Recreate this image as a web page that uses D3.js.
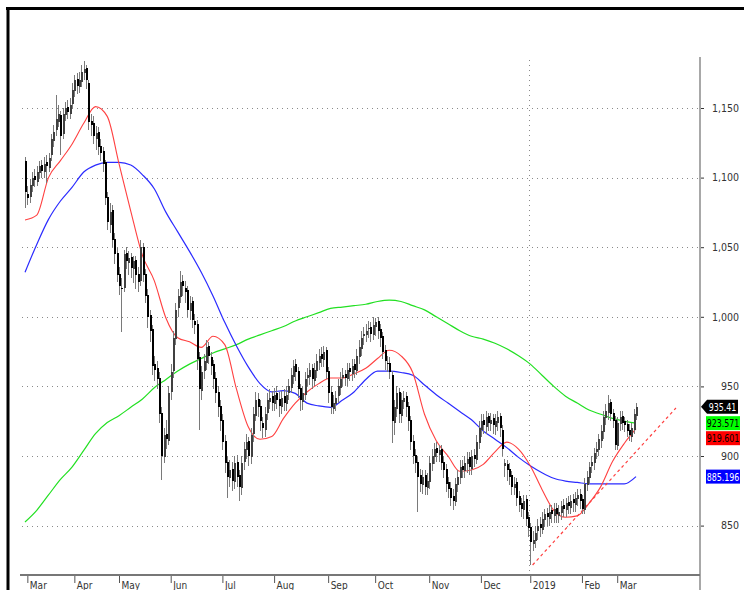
<!DOCTYPE html>
<html>
<head>
<meta charset="utf-8">
<script src="https://cdnjs.cloudflare.com/ajax/libs/d3/7.8.5/d3.min.js"></script>
<style>
  body { margin: 0; background: #fff; }
  svg { display: block; }
  text { font-family: 'Liberation Sans Narrow', 'DejaVu Sans Condensed', sans-serif; }
</style>
</head>
<body>
<div id="chart-area"></div>
<script>
// Daily candles, Mar 2018 - Mar 2019 (one entry per trading day)
const opens = [1112,1088,1086,1094,1101,1097,1103,1109,1104,1111,1107,1116,1126,1134,1140,1145,1131,1145,1151,1146,
  1153,1162,1171,1165,1169,1175,1179,1168,1141,1139,1128,1133,1123,1119,1111,1086,1066,1077,1056,1046,
  1031,1021,1021,1046,1039,1043,1034,1041,1031,1026,1050,1031,1016,1001,991,966,963,956,931,899,
  916,911,946,961,984,1006,1014,1026,1021,1019,1004,1011,997,995,971,947,961,967,979,971,
  966,956,946,936,926,911,896,884,891,881,896,886,877,896,904,911,899,916,929,941,
  936,924,919,931,939,943,937,945,941,935,943,937,945,949,957,966,961,949,939,944,
  956,957,963,954,961,967,973,969,976,961,946,934,937,943,949,956,959,955,963,959,
  966,961,971,977,986,987,991,993,987,993,997,991,986,976,967,967,958,924,934,946,
  929,939,943,936,926,911,901,896,886,879,886,877,881,894,899,906,901,905,896,891,
  881,877,871,867,879,884,893,889,894,899,891,901,897,909,919,926,921,929,923,927,
  921,924,929,919,893,894,891,886,877,881,871,866,861,869,856,849,837,839,846,851,
  847,854,859,855,861,857,863,857,859,865,861,867,863,869,865,869,873,869,861,879,
  884,893,895,903,904,911,917,927,931,939,931,926,907,923,929,925,923,919,914,919,929];
const highs = [1115,1094,1099,1104,1106,1108,1112,1113,1115,1116,1118,1131,1138,1159,1152,1148,1150,1154,1156,1157,
  1168,1174,1175,1176,1181,1184,1181,1170,1146,1144,1137,1136,1128,1122,1113,1090,1082,1080,1060,1050,
  1036,1028,1048,1050,1047,1046,1044,1044,1036,1055,1053,1034,1020,1005,994,972,968,960,935,920,
  926,950,966,990,1010,1020,1033,1030,1026,1022,1015,1014,1002,998,975,965,973,983,982,975,
  969,960,950,940,930,915,900,897,896,900,901,890,900,910,916,914,920,935,946,945,
  940,928,935,945,948,947,949,950,946,947,948,950,955,963,969,970,964,952,950,960,
  963,967,966,967,973,977,978,979,978,964,950,944,947,955,960,963,962,967,967,970,
  970,977,983,990,993,995,997,996,1000,999,1000,995,989,980,972,971,961,940,950,949,
  945,947,946,939,929,915,905,900,891,890,890,888,900,905,909,910,908,908,900,894,
  885,881,876,884,890,897,897,900,903,903,904,905,915,925,930,930,932,931,931,930,
  930,932,931,922,898,897,895,889,885,884,875,870,872,872,860,852,846,850,855,856,
  860,862,863,865,865,866,866,865,868,869,870,871,872,873,874,876,876,872,884,889,
  896,900,906,910,916,922,932,937,944,941,934,929,928,932,932,928,926,923,924,934,938];
const lows = [1078,1080,1082,1090,1093,1094,1099,1100,1100,1096,1104,1112,1122,1130,1136,1116,1128,1141,1142,1142,
  1149,1158,1160,1161,1165,1170,1164,1134,1130,1124,1120,1116,1112,1104,1080,1062,1060,1050,1038,1025,
  1016,989,1018,1034,1030,1028,1024,1020,1018,1022,1025,1010,992,982,958,954,948,924,883,895,
  905,908,940,956,980,1000,1010,1015,1010,1000,998,992,988,962,919,940,955,962,966,958,
  948,938,928,918,904,888,870,878,875,876,878,868,872,890,898,893,894,910,925,928,
  918,913,914,926,934,932,932,934,928,930,932,932,940,945,952,954,942,932,933,940,
  950,951,948,950,956,962,964,964,955,938,930,930,932,938,944,950,950,950,954,954,
  956,958,966,972,980,982,985,982,983,986,984,978,970,962,960,955,909,915,928,924,
  924,934,928,918,904,894,888,860,874,873,872,872,876,889,894,896,896,890,884,874,
  870,864,861,864,874,880,884,884,888,886,886,892,894,905,914,916,916,918,918,916,
  915,918,914,900,885,882,879,872,872,864,860,856,855,850,842,822,832,834,840,842,
  844,849,850,850,852,852,852,852,854,856,856,858,858,860,860,864,862,858,858,875,
  880,888,890,898,900,906,912,922,926,925,920,904,904,918,919,917,914,911,910,916,926];
const closes = [1090,1085,1095,1100,1098,1104,1108,1105,1110,1108,1114,1128,1133,1142,1146,1130,1146,1150,1147,1152,
  1163,1170,1166,1170,1176,1178,1170,1140,1138,1130,1132,1122,1118,1110,1085,1068,1075,1055,1045,1030,
  1022,1020,1045,1040,1042,1035,1040,1030,1025,1050,1030,1015,1000,990,965,962,955,930,900,915,
  912,945,960,985,1005,1015,1025,1022,1018,1005,1010,998,994,970,948,960,968,978,972,965,
  955,945,935,925,910,895,885,890,882,895,885,878,895,905,910,900,915,930,940,935,
  925,920,930,940,942,938,944,940,936,942,938,944,950,958,965,960,948,940,945,955,
  958,962,955,962,968,972,970,975,960,945,935,938,942,950,955,958,956,962,960,965,
  962,972,978,985,988,990,992,988,994,996,990,985,975,968,966,960,925,935,945,930,
  940,942,935,925,910,900,895,885,880,885,878,882,895,900,905,902,904,895,890,880,
  876,870,868,880,885,892,890,895,898,892,900,898,910,920,925,922,928,924,926,922,
  925,928,920,905,895,890,885,878,880,870,865,862,868,855,848,838,840,845,850,848,
  855,858,856,860,858,862,858,860,864,862,866,864,868,866,870,872,868,862,880,885,
  892,896,902,905,912,918,928,932,938,930,925,908,924,928,924,922,918,915,920,930,935.41];

// Moving averages, read every 5th trading day
const maIndex = d3.range(0, 261, 5);
const ma20 = [1069.5,1073,1100,1112,1124,1139,1151,1144,1110,1076,1044,1026,999,985,982,978,986,980,948,921,
  912,914,927,938,946,952,956,956,959,963,970,976,972,960,930,911,900,889,890,894,
  903,910,905,893,876,861,856,857,866,878,896,909,919.601];
const ma50 = [1032,1052,1070,1083,1093,1104,1109,1111,1111,1109,1102,1092,1075,1061,1047,1032,1015,996,979,964,
  952,946,947,945,938,936,935,940,946,955,961,961,960,958,951,944,938,932,926,918,
  912,906,899,893,888,884,882,881,880,880,880,880,885.196];
const ma200 = [852.6,861,872,883,892,904,916,924,929,935,941,949,955,961,966,970,974,977,980,984,
  987,990,993,997,1000,1003,1006,1007,1008,1009,1011,1012,1011,1008,1005,1000,995,990,986,984,
  981,977,972,966,958,950,943,938,933,930,927,925,923.571];

// Support trend line (bar index, price)
const trendIdx = [216, 277];
const trendVal = [821.7, 934.5];

// Axis ticks
const priceTicks = [850, 900, 950, 1000, 1050, 1100, 1150];
const monthLabels = ['Mar','Apr','May','Jun','Jul','Aug','Sep','Oct','Nov','Dec','2019','Feb','Mar'];
const monthStart = [1, 21, 40, 62, 84, 106, 129, 149, 172, 194, 215, 237, 252];
const yearLineIdx = 214.3;

// Last-value tags
const tagValues = [935.41, 923.571, 919.601, 885.196];
const tagFills = ['#000000', '#00ff00', '#ff0000', '#0000ff'];
const tagText = ['#ffffff', '#000000', '#000000', '#ffffff'];

const W = 744, H = 590;
const axisX = 700, axisY = 575;

const svg = d3.select('#chart-area')
  .append('svg')
    .attr('width', W)
    .attr('height', H);

// Scales
const x = d3.scaleLinear().domain([0, 260]).range([25, 636]);
const y = d3.scaleLinear().domain([850, 1150]).range([525.6, 108]);

// Frame
svg.append('line').attr('x1', 6).attr('x2', W).attr('y1', 8.5).attr('y2', 8.5)
  .attr('stroke', '#000').attr('stroke-width', 3);
svg.append('line').attr('x1', 8).attr('x2', 8).attr('y1', 7).attr('y2', H)
  .attr('stroke', '#000').attr('stroke-width', 3);

// Grid
svg.append('g').selectAll('line')
  .data(priceTicks)
  .enter().append('line')
    .attr('x1', 22).attr('x2', axisX)
    .attr('y1', d => Math.round(y(d)) + 0.5).attr('y2', d => Math.round(y(d)) + 0.5)
    .attr('stroke', '#8a8a8a')
    .attr('stroke-dasharray', '1,4');

svg.append('line')
  .attr('x1', Math.round(x(yearLineIdx)) + 0.5).attr('x2', Math.round(x(yearLineIdx)) + 0.5)
  .attr('y1', 60).attr('y2', axisY)
  .attr('stroke', '#8a8a8a')
  .attr('stroke-dasharray', '1,4');

// Right axis
const yAxis = svg.append('g')
  .attr('transform', 'translate(' + axisX + ',0)')
  .call(d3.axisRight(y).tickValues(priceTicks).tickFormat(d3.format(',')).tickSize(4));
yAxis.select('.domain').remove();
yAxis.selectAll('.tick line').attr('stroke', '#333');
yAxis.selectAll('.tick text')
  .attr('x', 39).attr('text-anchor', 'end')
  .attr('fill', '#333').attr('font-size', '10.5px');
svg.append('line').attr('x1', axisX).attr('x2', axisX).attr('y1', 57).attr('y2', H)
  .attr('stroke', '#a8a8a8').attr('stroke-width', 2);

// Bottom axis
const xAxis = svg.append('g')
  .attr('transform', 'translate(0,' + (axisY + 1) + ')')
  .call(d3.axisBottom(x).tickValues(monthStart)
    .tickFormat((d, i) => monthLabels[i]).tickSize(7));
xAxis.select('.domain').remove();
xAxis.selectAll('.tick line').attr('stroke', '#555');
xAxis.selectAll('.tick text')
  .attr('text-anchor', 'start').attr('x', 2).attr('y', 6)
  .attr('fill', '#333').attr('font-size', '10px');
svg.append('line').attr('x1', 20).attr('x2', axisX).attr('y1', axisY).attr('y2', axisY)
  .attr('stroke', '#777').attr('stroke-width', 2);

// Moving averages
const maLine = d3.line()
  .x((d, i) => x(maIndex[i]))
  .y(d => y(d))
  .curve(d3.curveMonotoneX);

svg.append('path').datum(ma200).attr('d', maLine)
  .attr('fill', 'none').attr('stroke', '#22e022').attr('stroke-width', 1.2);
svg.append('path').datum(ma50).attr('d', maLine)
  .attr('fill', 'none').attr('stroke', '#2b2bff').attr('stroke-width', 1.2);
svg.append('path').datum(ma20).attr('d', maLine)
  .attr('fill', 'none').attr('stroke', '#ff4040').attr('stroke-width', 1.1);

// Trend line
svg.append('line')
  .attr('x1', x(trendIdx[0])).attr('y1', y(trendVal[0]))
  .attr('x2', x(trendIdx[1])).attr('y2', y(trendVal[1]))
  .attr('stroke', '#ff4040').attr('stroke-width', 1.2)
  .attr('stroke-dasharray', '3,3');

// Candles
const candles = svg.append('g').attr('shape-rendering', 'crispEdges');
const idx = d3.range(closes.length);

candles.selectAll('.wick')
  .data(idx)
  .enter().append('line')
    .attr('class', 'wick')
    .attr('x1', i => Math.round(x(i)) + 0.5).attr('x2', i => Math.round(x(i)) + 0.5)
    .attr('y1', i => y(highs[i])).attr('y2', i => y(lows[i]))
    .attr('stroke', '#7a7a7a');

candles.selectAll('.body')
  .data(idx)
  .enter().append('rect')
    .attr('class', 'body')
    .attr('x', i => Math.round(x(i)))
    .attr('width', 2)
    .attr('y', i => y(Math.max(opens[i], closes[i])))
    .attr('height', i => Math.max(1, Math.abs(y(opens[i]) - y(closes[i]))))
    .attr('fill', i => closes[i] >= opens[i] ? '#404040' : '#000');

// Last-value tags, stacked so they do not overlap
const tags = tagValues.map((v, i) => ({ v: v, fill: tagFills[i], color: tagText[i], cy: y(v) }));
for (let i = 1; i < tags.length; i++) {
  if (tags[i].cy < tags[i - 1].cy + 15) tags[i].cy = tags[i - 1].cy + 15;
}

const tagG = svg.append('g');
tags.forEach((t, i) => {
  if (i === 0) {
    tagG.append('path')
      .attr('d', 'M701,' + t.cy + ' L707,' + (t.cy - 7) + ' L738,' + (t.cy - 7) +
        ' L738,' + (t.cy + 7) + ' L707,' + (t.cy + 7) + ' Z')
      .attr('fill', t.fill);
  } else {
    tagG.append('rect')
      .attr('x', 706).attr('y', t.cy - 7)
      .attr('width', 34).attr('height', 14)
      .attr('fill', t.fill);
  }
  tagG.append('text')
    .attr('transform', 'translate(' + (i === 0 ? 722.5 : 723) + ',' + (t.cy + 4) + ') scale(0.8,1)')
    .attr('text-anchor', 'middle')
    .attr('font-size', '11px')
    .attr('fill', t.color)
    .text(t.v);
});
</script>
</body>
</html>
